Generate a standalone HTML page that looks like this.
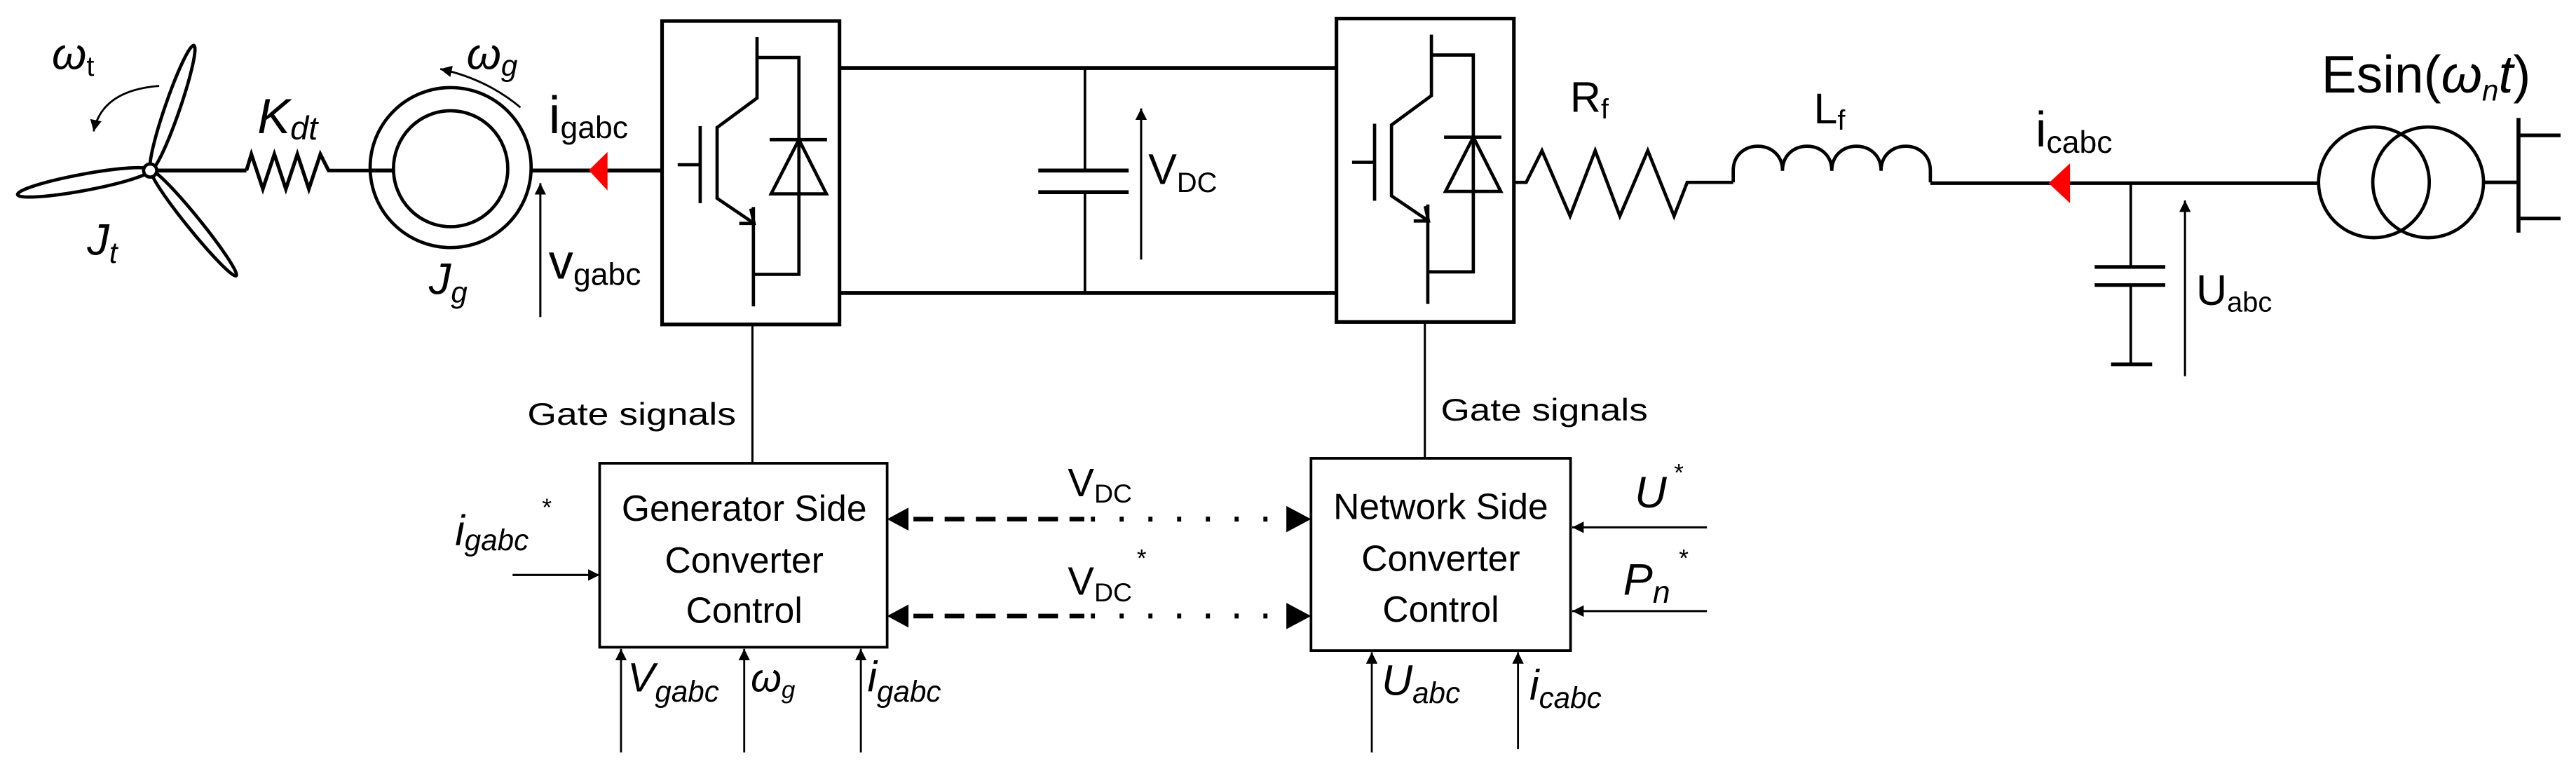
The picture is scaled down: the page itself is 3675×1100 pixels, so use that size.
<!DOCTYPE html>
<html><head><meta charset="utf-8"><style>
html,body{margin:0;padding:0;background:#fff;}
svg{display:block;}
text{font-family:"Liberation Sans",sans-serif;fill:#000;}
.it{font-style:italic;}
</style></head><body>
<svg width="3675" height="1100" viewBox="0 0 1568 469.33" preserveAspectRatio="none" xmlns="http://www.w3.org/2000/svg">
<defs>
<marker id="ah" viewBox="0 0 10 10" refX="10" refY="5" markerWidth="7" markerHeight="7" orient="auto" markerUnits="userSpaceOnUse"><path d="M0,0 L10,5 L0,10 z" fill="#000"/></marker>
<g id="igbt" fill="none" stroke="#000" stroke-width="2">
  <polyline points="460.8,22.6 460.8,59.7 436.5,77.6 436.5,120.7 458.6,135.7"/>
  <polyline points="460.8,35 486.3,35 486.3,167 458.6,167"/>
  <line x1="458.6" y1="126" x2="458.6" y2="186.5"/>
  <line x1="426.2" y1="76.8" x2="426.2" y2="123.7"/>
  <line x1="412.5" y1="100.3" x2="426.2" y2="100.3"/>
  <polyline points="450,136 459,136 457,127"/>
  <line x1="468.5" y1="85" x2="503.4" y2="85"/>
  <polygon points="486.3,85 469.4,118 503,118"/>
  <rect x="403" y="12.8" width="108" height="184.7" stroke-width="2.2"/>
</g>
</defs>

<!-- Turbine -->
<g fill="none" stroke="#000" stroke-width="2">
  <ellipse cx="105" cy="65.5" rx="40" ry="4.5" transform="rotate(-71 105 65.5)"/>
  <ellipse cx="51" cy="111" rx="41" ry="5" transform="rotate(-10.5 51 111)"/>
  <ellipse cx="118" cy="136" rx="41" ry="4" transform="rotate(51 118 136)"/>
  <circle cx="91.4" cy="103.8" r="4" fill="#fff"/>
  <line x1="95.4" y1="103.8" x2="150" y2="103.8" stroke-width="2.4"/>
  <polyline points="150,103.8 153,93.9 160,115 167,93.9 174,115 181,93.9 188,115 195,93.9 200,103.8 225.3,103.8" stroke-width="2.2"/>
  <ellipse cx="274.3" cy="102" rx="49" ry="48.7"/>
  <ellipse cx="274.3" cy="102.7" rx="34.8" ry="35.3"/>
  <line x1="225.3" y1="103.8" x2="239.5" y2="103.8" stroke-width="2.4"/>
  <line x1="323.3" y1="103.8" x2="403" y2="103.8" stroke-width="2.4"/>
  <path d="M96.9,52.3 Q62,55 57,80" stroke-width="1.2" marker-end="url(#ah)"/>
  <path d="M316.8,65.4 Q296,48 268,42" stroke-width="1.2" marker-end="url(#ah)"/>
  <line x1="328.9" y1="193" x2="328.9" y2="111.5" stroke-width="1.3" marker-end="url(#ah)"/>
</g>
<polygon points="358.4,103.6 369.8,92.5 369.8,116" fill="#f00"/>
<text x="31.6" y="42" class="it" font-size="27">ω<tspan font-size="17" dy="4" font-style="normal">t</tspan></text>
<text x="156.7" y="81" class="it" font-size="30">K<tspan font-size="20" dy="4">dt</tspan></text>
<text x="53" y="155" class="it" font-size="27">J<tspan font-size="18" dy="5">t</tspan></text>
<text x="261" y="179" class="it" font-size="27">J<tspan font-size="18" dy="5">g</tspan></text>
<text x="284" y="42" class="it" font-size="27">ω<tspan font-size="18" dy="4">g</tspan></text>
<text x="334" y="81" font-size="32">i<tspan font-size="19" dy="3">gabc</tspan></text>
<text x="334" y="169.5" font-size="30">v<tspan font-size="19" dy="4">gabc</tspan></text>

<use href="#igbt"/>
<g fill="none" stroke="#000">
  <line x1="511" y1="41.4" x2="813.5" y2="41.4" stroke-width="2.4"/>
  <line x1="511" y1="178.3" x2="813.5" y2="178.3" stroke-width="2.4"/>
  <line x1="660.4" y1="41.4" x2="660.4" y2="103.8" stroke-width="1.6"/>
  <line x1="660.4" y1="117" x2="660.4" y2="178.3" stroke-width="1.6"/>
  <line x1="632" y1="103.8" x2="687" y2="103.8" stroke-width="2.4"/>
  <line x1="632" y1="117" x2="687" y2="117" stroke-width="2.4"/>
  <line x1="694.6" y1="158" x2="694.6" y2="66" stroke-width="1.3" marker-end="url(#ah)"/>
  <line x1="458" y1="197.5" x2="458" y2="282" stroke-width="1.3"/>
  <line x1="867.3" y1="196" x2="867.3" y2="279" stroke-width="1.3"/>
</g>
<text x="699" y="112" font-size="26">V<tspan font-size="17" dy="5">DC</tspan></text>

<use href="#igbt" transform="translate(410.5,-1.5)"/>
<g fill="none" stroke="#000" stroke-width="2">
  <polyline points="922,111 929,111 938.6,91.7 955.7,131.5 971,91.7 986,131.5 1003,91.7 1019,131.5 1027,111 1055,111"/>
  <path d="M1055,111 L1055,104 C1055,84 1085,84 1085,104 C1085,84 1115,84 1115,104 C1115,84 1145,84 1145,104 C1145,84 1175,84 1175,104 L1175,111" />
  <line x1="1175" y1="111.5" x2="1411" y2="111.5" stroke-width="2.2"/>
  <line x1="1297" y1="111.5" x2="1297" y2="162.5" stroke-width="1.6"/>
  <line x1="1297" y1="173.5" x2="1297" y2="221.8" stroke-width="1.6"/>
  <line x1="1275" y1="162.5" x2="1318" y2="162.5" stroke-width="2.2"/>
  <line x1="1275" y1="173.5" x2="1318" y2="173.5" stroke-width="2.2"/>
  <line x1="1285" y1="221.8" x2="1310" y2="221.8" stroke-width="2.2"/>
  <line x1="1330" y1="229" x2="1330" y2="122" stroke-width="1.3" marker-end="url(#ah)"/>
  <circle cx="1445" cy="111" r="33.7"/>
  <circle cx="1478" cy="111" r="33.7"/>
  <line x1="1511.6" y1="111" x2="1533" y2="111" stroke-width="2.2"/>
  <line x1="1533" y1="71.8" x2="1533" y2="141.6" stroke-width="2.4"/>
  <line x1="1533" y1="82.4" x2="1558.6" y2="82.4" stroke-width="2.2"/>
  <line x1="1533" y1="133" x2="1558.6" y2="133" stroke-width="2.2"/>
</g>
<polygon points="1247,111.5 1260,99.4 1260,123.7" fill="#f00"/>
<text x="955.7" y="68" font-size="26">R<tspan font-size="17" dy="4">f</tspan></text>
<text x="1104" y="75" font-size="26">L<tspan font-size="17" dy="4">f</tspan></text>
<text x="1239" y="89" font-size="30">i<tspan font-size="19" dy="4">cabc</tspan></text>
<text x="1336.8" y="185.6" font-size="26">U<tspan font-size="17" dy="4">abc</tspan></text>
<text x="1413" y="56.3" font-size="32">Esin(<tspan class="it">ω</tspan><tspan class="it" font-size="18" dy="5">n</tspan><tspan class="it" dy="-5">t</tspan>)</text>

<g fill="none" stroke="#000">
  <rect x="365" y="282" width="175" height="112" stroke-width="1.6"/>
  <rect x="798" y="279" width="158" height="117" stroke-width="1.6"/>
  <line x1="312" y1="350" x2="365" y2="350" stroke-width="1.3" marker-end="url(#ah)"/>
  <line x1="378" y1="458" x2="378" y2="395" stroke-width="1.2" marker-end="url(#ah)"/>
  <line x1="453" y1="458" x2="453" y2="395" stroke-width="1.2" marker-end="url(#ah)"/>
  <line x1="524" y1="458" x2="524" y2="395" stroke-width="1.2" marker-end="url(#ah)"/>
  <line x1="835" y1="458" x2="835" y2="397" stroke-width="1.2" marker-end="url(#ah)"/>
  <line x1="924" y1="456" x2="924" y2="397" stroke-width="1.2" marker-end="url(#ah)"/>
  <line x1="1039" y1="321" x2="957" y2="321" stroke-width="1.3" marker-end="url(#ah)"/>
  <line x1="1039" y1="372" x2="957" y2="372" stroke-width="1.3" marker-end="url(#ah)"/>
  <line x1="556" y1="316" x2="660" y2="316" stroke-width="2.8" stroke-dasharray="12,7"/>
  <line x1="556" y1="375" x2="660" y2="375" stroke-width="2.8" stroke-dasharray="12,7"/>
  <line x1="664" y1="316" x2="782" y2="316" stroke-width="3" stroke-dasharray="2.5,15"/>
  <line x1="664" y1="375" x2="782" y2="375" stroke-width="3" stroke-dasharray="2.5,15"/>
</g>
<polygon points="540,316 553,309 553,323" fill="#000"/>
<polygon points="540,375 553,368 553,382" fill="#000"/>
<polygon points="798,316 783,308 783,324" fill="#000"/>
<polygon points="798,375 783,367 783,383" fill="#000"/>

<text x="321" y="258.5" font-size="19" textLength="127" lengthAdjust="spacingAndGlyphs">Gate signals</text>
<text x="877" y="256" font-size="19" textLength="126" lengthAdjust="spacingAndGlyphs">Gate signals</text>
<g font-size="22" text-anchor="middle">
<text x="453" y="317">Generator Side</text>
<text x="453" y="348.5">Converter</text>
<text x="453" y="379">Control</text>
<text x="877" y="316">Network Side</text>
<text x="877" y="347.5">Converter</text>
<text x="877" y="378.5">Control</text>
</g>
<text x="650" y="302" font-size="24">V<tspan font-size="16" dy="4">DC</tspan></text>
<text x="650" y="362" font-size="24">V<tspan font-size="16" dy="4">DC</tspan></text>
<text x="692" y="345" font-size="15">*</text>
<text x="277" y="332" class="it" font-size="26">i<tspan font-size="18" dy="3">gabc</tspan></text>
<text x="330" y="314" font-size="15">*</text>
<text x="382" y="421" class="it" font-size="25">V<tspan font-size="18" dy="6">gabc</tspan></text>
<text x="457" y="421" class="it" font-size="24">ω<tspan font-size="15" dy="4">g</tspan></text>
<text x="528" y="421" class="it" font-size="26">i<tspan font-size="18" dy="6">gabc</tspan></text>
<text x="841" y="423" class="it" font-size="26">U<tspan font-size="18" dy="5">abc</tspan></text>
<text x="931" y="426" class="it" font-size="26">i<tspan font-size="18" dy="5">cabc</tspan></text>
<text x="995" y="309" class="it" font-size="27">U</text>
<text x="1019" y="293" font-size="15">*</text>
<text x="988" y="362" class="it" font-size="27">P<tspan font-size="19" dy="5">n</tspan></text>
<text x="1022" y="345" font-size="15">*</text>
</svg>
</body></html>
